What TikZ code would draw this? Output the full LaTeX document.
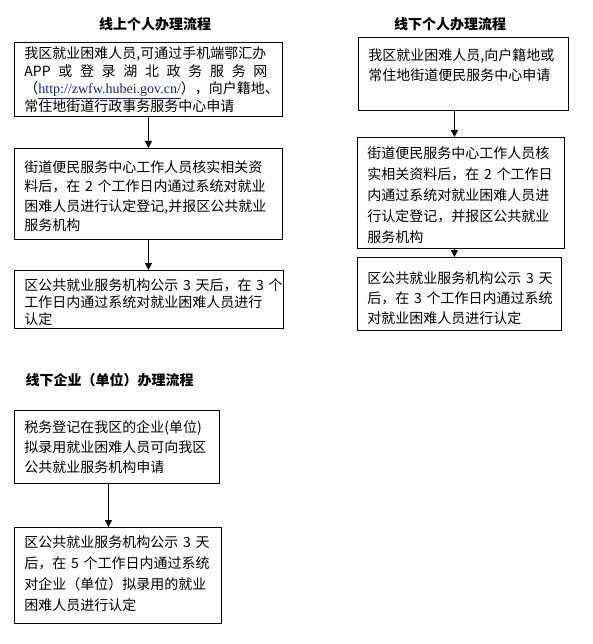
\documentclass[tikz,border=0pt]{standalone}
\usepackage{fontspec}
\setmainfont{Noto Sans CJK SC}
\newfontfamily\urlfont{Liberation Serif}
\usetikzlibrary{arrows.meta}
\definecolor{urlblue}{RGB}{30,30,140}

\begin{document}
\begin{tikzpicture}[x=1pt,y=-1pt,
	flowbox/.style={draw, line width=0.9pt, anchor=north west, align=left, inner xsep=10pt, inner ysep=5pt, font=\fontsize{14}{#1}\selectfont},
	flowtitle/.style={font=\bfseries\fontsize{14}{16}\selectfont},
	flowarrow/.style={line width=0.9pt, -{Triangle[width=7pt,length=7pt]}}]
	\useasboundingbox (0,0) rectangle (593,644);
	\node[flowtitle] (t1) at (155,24) {线上个人办理流程};
	\node[flowtitle] (t2) at (450,24) {线下个人办理流程};
	\node[flowtitle, anchor=west] (t3) at (22,380) {线下企业（单位）办理流程};

	\node[flowbox=17.5, text width=248pt, text height=11.5pt, text depth=52.5pt] (L1) at (14,42) {我区就业困难人员,可通过手机端鄂汇办\\\makebox[243pt][s]{APP\hfill 或\hfill 登\hfill 录\hfill 湖\hfill 北\hfill 政\hfill 务\hfill 服\hfill 务\hfill 网}\\（\mbox{\textcolor{urlblue}{\urlfont\underline{http://zwfw.hubei.gov.cn/}}}），向户籍地、\\常住地街道行政事务服务中心申请};
	\node[flowbox=19.5, text width=248pt, text height=19pt, text depth=62pt] (L2) at (14,148) {街道便民服务中心工作人员核实相关资\\料后，在~2~个工作日内通过系统对就业\\困难人员进行认定登记,并报区公共就业\\服务机构};
	\node[flowbox=16.7, text width=249pt, text height=15.5pt, text depth=32.5pt] (L3) at (14,270) {区公共就业服务机构公示~3~天后，在~3~个\\工作日内通过系统对就业困难人员进行\\认定};

	\node[flowbox=20, text width=190pt, text height=18.5pt, text depth=44.5pt] (R1) at (358,37) {我区就业困难人员,向户籍地或\\常住地街道便民服务中心申请};
	\node[flowbox=21, text width=187pt, text height=16.5pt, text depth=84.5pt] (R2) at (357,137) {街道便民服务中心工作人员核\\实相关资料后，在~2~个工作日\\内通过系统对就业困难人员进\\行认定登记，并报区公共就业\\服务机构};
	\node[flowbox=20, text width=184pt, text height=21.5pt, text depth=41.5pt] (R3) at (357,257) {区公共就业服务机构公示~3~天\\后，在~3~个工作日内通过系统\\对就业困难人员进行认定};

	\node[flowbox=20, text width=185pt, text height=17pt, text depth=46pt] (B1) at (14,410) {税务登记在我区的企业(单位)\\拟录用就业困难人员可向我区\\公共就业服务机构申请};
	\node[flowbox=21, text width=187pt, text height=15pt, text depth=71pt] (B2) at (14,527) {区公共就业服务机构公示~3~天\\后，在~5~个工作日内通过系统\\对企业（单位）拟录用的就业\\困难人员进行认定};

	\draw[flowarrow] (L1.south) -- (L1.south |- L2.north);
	\draw[flowarrow] (L2.south) -- (L2.south |- L3.north);
	\draw[flowarrow] ([xshift=-9pt]R1.south) -- ([xshift=-9pt]R1.south |- R2.north);
	\draw[flowarrow] ([xshift=-6.5pt]R2.south) -- ([xshift=-6.5pt]R2.south |- R3.north);
	\draw[flowarrow] ([xshift=-8.5pt]B1.south) -- ([xshift=-8.5pt]B1.south |- B2.north);
\end{tikzpicture}
\end{document}
